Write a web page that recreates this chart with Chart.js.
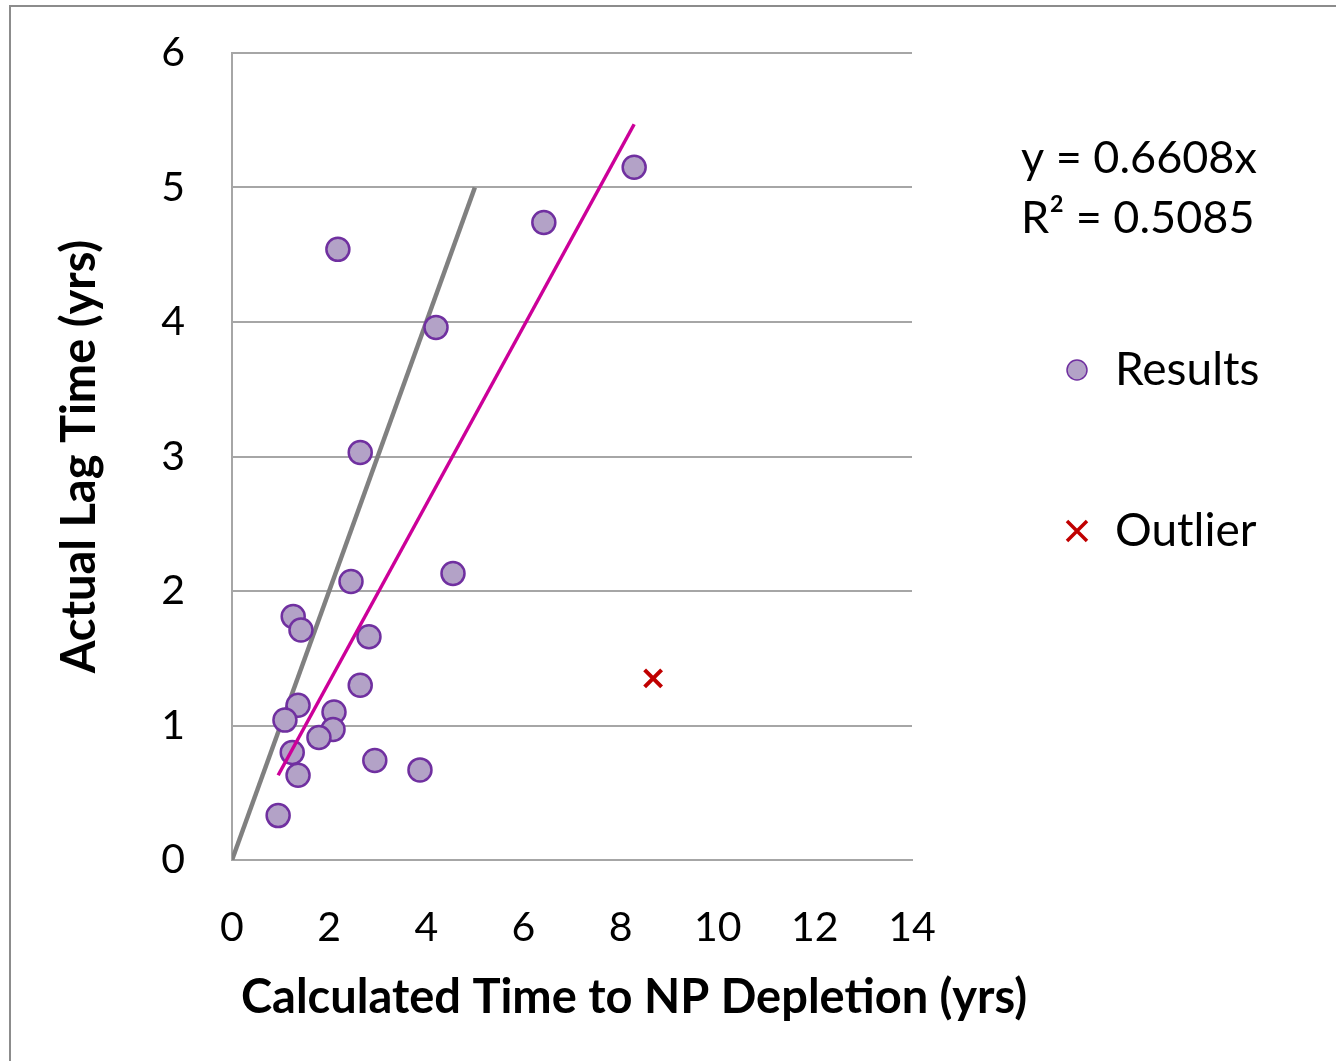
<!DOCTYPE html>
<html>
<head>
<meta charset="utf-8">
<script src="https://cdn.jsdelivr.net/npm/chart.js@4.4.0/dist/chart.umd.min.js"></script>
<style>
  html, body { margin: 0; padding: 0; background: #fff; }
  #frame { position: absolute; left: 9px; top: 5px; width: 1340px; height: 1070px;
           border-top: 2px solid #8c8c8c; border-left: 2px solid #8c8c8c; }
  #wrap { position: absolute; left: 0; top: 0; width: 1336px; height: 1061px; }
</style>
</head>
<body>
<div id="frame"></div>
<div id="wrap"><canvas id="chart" width="1336" height="1061"></canvas></div>
<script>
// Results points (calculated time, actual lag time)
var resultsX = [2.18, 6.42, 8.28, 4.20, 2.64, 2.45, 4.55, 1.26, 1.42, 2.82, 2.64,
                1.36, 1.09, 2.10, 2.08, 1.79, 1.24, 1.36, 2.94, 3.87, 0.95];
var resultsY = [4.54, 4.74, 5.15, 3.96, 3.03, 2.07, 2.13, 1.81, 1.71, 1.66, 1.30,
                1.15, 1.04, 1.10, 0.97, 0.91, 0.80, 0.63, 0.74, 0.67, 0.33];
// Outlier
var outlierX = [8.67];
var outlierY = [1.35];
// 1:1 reference line
var refLineX = [0, 5];
var refLineY = [0, 5];
// linear trendline y = 0.6608x (end points)
var trendX = [0.95, 8.28];
var trendY = [0.63, 5.47];
// ticks
var xTicks = [0, 2, 4, 6, 8, 10, 12, 14];
var yTicks = [0, 1, 2, 3, 4, 5, 6];
var equationLines = ['y = 0.6608x', 'R\u00B2 = 0.5085'];

function pts(xs, ys) {
    return xs.map(function(x, i) { return { x: x, y: ys[i] }; });
}

var FONT = 'Lato, "Open Sans", sans-serif';

var sidePlugin = {
    id: 'sidePlugin',
    afterDraw: function(chart) {
        var ctx = chart.ctx;
        ctx.save();
        ctx.fillStyle = '#000';
        ctx.textBaseline = 'middle';
        // x axis title
        ctx.font = 'bold 47px ' + FONT;
        ctx.textAlign = 'center';
        ctx.fillText('Calculated Time to NP Depletion (yrs)', 634, 998);
        // equation
        ctx.font = '45px ' + FONT;
        ctx.textAlign = 'left';
        ctx.fillText(equationLines[0], 1021, 158);
        ctx.fillText(equationLines[1], 1021, 218);
        // legend
        ctx.font = '46px ' + FONT;
        ctx.beginPath();
        ctx.arc(1077, 370, 10, 0, Math.PI * 2);
        ctx.fillStyle = '#b3a2c7';
        ctx.fill();
        ctx.lineWidth = 1.5;
        ctx.strokeStyle = '#7030a0';
        ctx.stroke();
        ctx.fillStyle = '#000';
        ctx.fillText('Results', 1115, 370);
        ctx.beginPath();
        ctx.moveTo(1067, 521); ctx.lineTo(1087, 541);
        ctx.moveTo(1087, 521); ctx.lineTo(1067, 541);
        ctx.lineWidth = 3.5;
        ctx.strokeStyle = '#c00000';
        ctx.stroke();
        ctx.fillText('Outlier', 1115, 531);
        ctx.restore();
    }
};

new Chart(document.getElementById('chart'), {
    type: 'scatter',
    data: {
        datasets: [
            {
                label: 'Trend',
                data: pts(trendX, trendY),
                showLine: true,
                borderColor: '#cc0099',
                borderWidth: 3.5,
                pointRadius: 0,
                order: 0
            },
            {
                label: 'Results',
                data: pts(resultsX, resultsY),
                backgroundColor: '#b3a2c7',
                borderColor: '#7030a0',
                borderWidth: 2.5,
                pointRadius: 11.5,
                order: 1
            },
            {
                label: 'Outlier',
                data: pts(outlierX, outlierY),
                pointStyle: 'crossRot',
                borderColor: '#c00000',
                borderWidth: 4,
                pointRadius: 12,
                order: 1
            },
            {
                label: '1:1',
                data: pts(refLineX, refLineY),
                showLine: true,
                borderColor: '#808080',
                borderWidth: 4.5,
                pointRadius: 0,
                order: 2
            }
        ]
    },
    options: {
        responsive: false,
        animation: false,
        layout: { padding: { left: 0, top: 53, right: 424, bottom: 0 } },
        plugins: { legend: { display: false }, tooltip: { enabled: false } },
        scales: {
            x: {
                type: 'linear',
                min: 0, max: 14,
                afterBuildTicks: function(s) { s.ticks = xTicks.map(function(v) { return { value: v }; }); },
                afterFit: function(s) { s.height = 201; },
                grid: { display: false, drawTicks: false },
                border: { display: true, color: '#a6a6a6', width: 2 },
                ticks: { color: '#000', padding: 43, font: { family: FONT, size: 41 } }
            },
            y: {
                type: 'linear',
                min: 0, max: 6,
                afterBuildTicks: function(s) { s.ticks = yTicks.map(function(v) { return { value: v }; }); },
                afterFit: function(s) {
                    s.width = 232;
                    // tick padding is otherwise added above the top label
                    s.paddingTop = 0;
                    s.paddingBottom = 0;
                },
                grid: { color: '#a6a6a6', lineWidth: 2, drawTicks: false },
                border: { display: true, color: '#a6a6a6', width: 2 },
                ticks: { color: '#000', padding: 47, font: { family: FONT, size: 41 } },
                title: {
                    display: true,
                    text: 'Actual Lag Time (yrs)',
                    color: '#000',
                    font: { family: FONT, size: 47, weight: 'bold' },
                    padding: { top: 52, bottom: 0 }
                }
            }
        }
    },
    plugins: [sidePlugin]
});
</script>
</body>
</html>
